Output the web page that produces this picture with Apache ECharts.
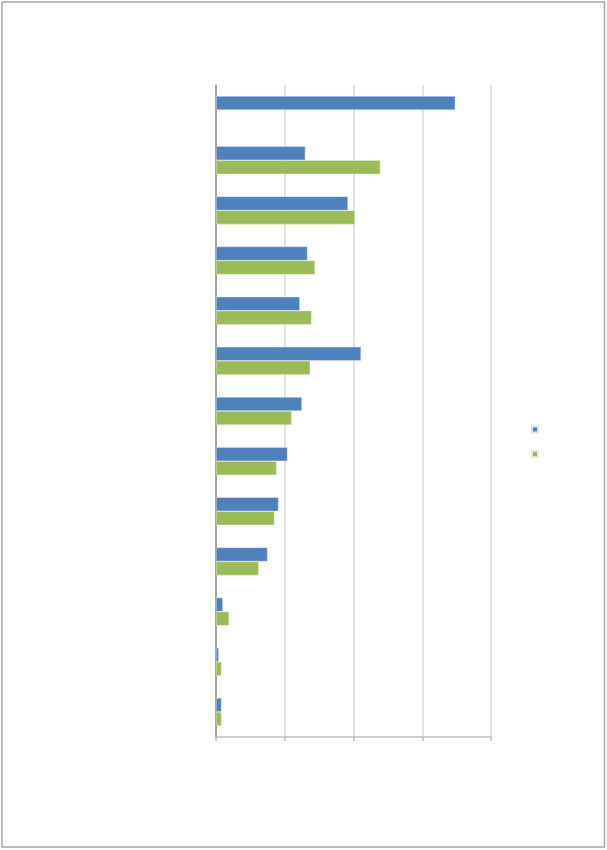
<!DOCTYPE html>
<html>
<head>
<meta charset="utf-8">
<script src="https://cdn.jsdelivr.net/npm/echarts@6/dist/echarts.min.js"></script>
<style>
html,body{margin:0;padding:0;background:#fff;}
#c{width:607px;height:850px;}
</style>
</head>
<body>
<div id="c"></div>
<script>
var categories = ['1','2','3','4','5','6','7','8','9','10','11','12','13'];
var seriesA = [348, 130, 192, 133, 122, 211, 125, 104, 91, 75, 10, 4, 8];
var seriesB = [null, 239, 202, 144, 139, 137, 110, 88, 85, 62, 19, 8, 8];
var xTicks = [0, 100, 200, 300, 400];

var chart = echarts.init(document.getElementById('c'), null, {renderer:'canvas'});
chart.setOption({
  animation: false,
  graphic: [{
    type: 'rect', silent: true, z: -10,
    shape: {x: 2, y: 2, width: 602.5, height: 845},
    style: {fill: 'none', stroke: '#a6a6a6', lineWidth: 1.5}
  }],
  grid: {left: 216, top: 85, width: 275, height: 652, containLabel: false},
  legend: {
    orient: 'vertical', left: 531, top: 425.5, padding: 0,
    itemWidth: 6, itemHeight: 6, itemGap: 16.5,
    icon: 'rect', formatter: function(){ return ''; },
    textStyle: {fontSize: 1, lineHeight: 1},
    data: ['A','B']
  },
  xAxis: {
    type: 'value', min: xTicks[0], max: xTicks[xTicks.length-1], interval: 100,
    axisLabel: {show: false},
    axisLine: {show: true, lineStyle: {color: '#bfbfbf', width: 1.5}},
    axisTick: {show: true, length: 4, lineStyle: {color: '#bfbfbf', width: 1.5}},
    splitLine: {show: true, lineStyle: {color: '#d9d9d9', width: 1.5}}
  },
  yAxis: {
    type: 'category', data: categories, inverse: true,
    axisLabel: {show: false},
    axisLine: {show: true, lineStyle: {color: '#8c8c8c', width: 1.5}},
    axisTick: {show: false},
    splitLine: {show: false}
  },
  series: [
    {name: 'A', type: 'bar', data: seriesA, barWidth: 14, barGap: '0%',
     itemStyle: {color: '#4F81BD', borderColor: '#dbe6f3', borderWidth: 0.5}},
    {name: 'B', type: 'bar', data: seriesB, barWidth: 14, barGap: '0%',
     itemStyle: {color: '#9BBB59', borderColor: '#e3edd2', borderWidth: 0.5}}
  ]
});
</script>
</body>
</html>
